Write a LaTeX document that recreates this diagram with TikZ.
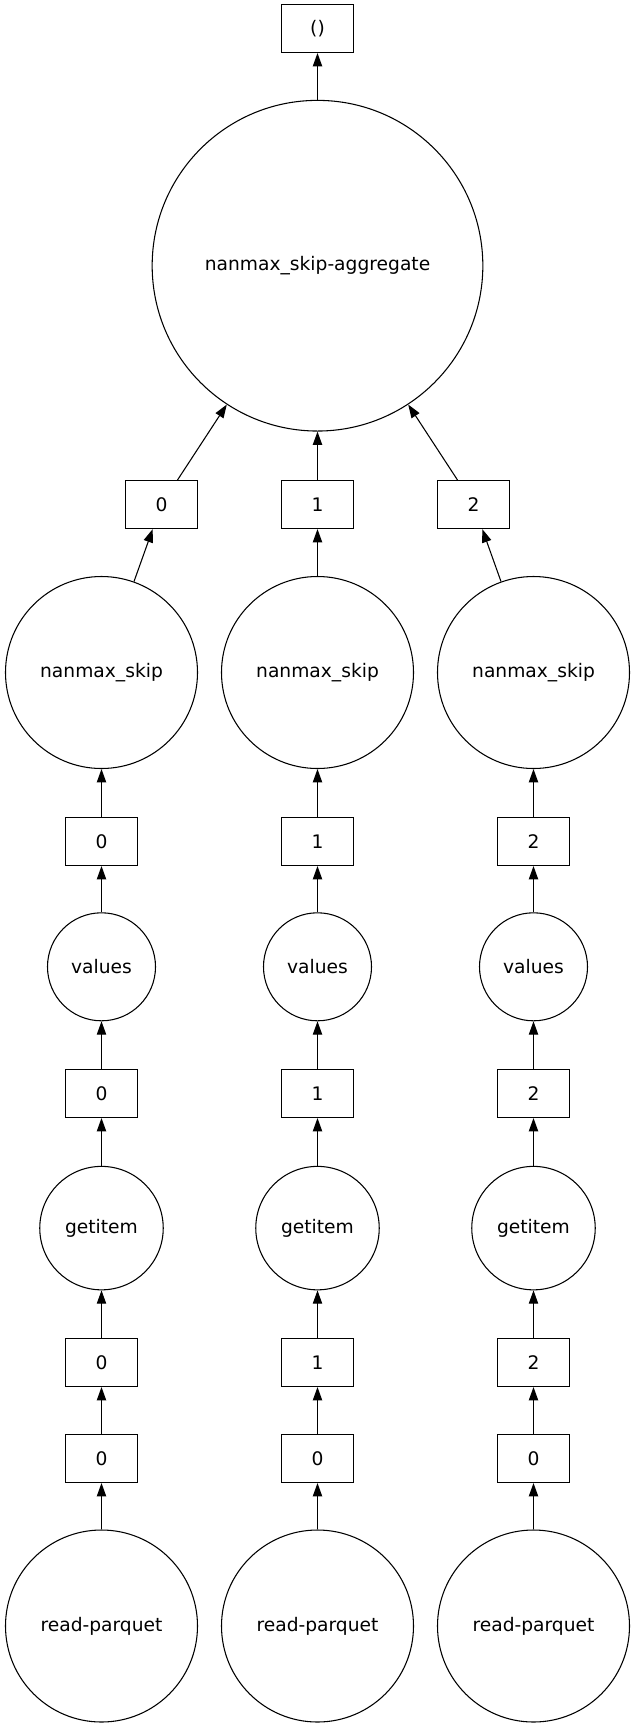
\documentclass[tikz,border=0pt]{standalone}
\usepackage{fontspec}
\setmainfont{DejaVu Sans}
\usetikzlibrary{arrows.meta}
\begin{document}
\begin{tikzpicture}[x=0.75pt,y=-0.75pt,
  every node/.style={font=\fontsize{14}{17}\selectfont, line width=0.8pt},
  keybox/.style={draw, rectangle, minimum width=54pt, minimum height=36pt, inner sep=0pt},
  task/.style={draw, circle, inner sep=0pt, minimum size=#1},
  arr/.style={line width=0.8pt, -{Triangle[length=10pt,width=7pt]}}]
\useasboundingbox (0,0) rectangle (635,1728);
\node[keybox] (top) at (317.5,28.5) {()};
\node[task=248pt] (agg) at (317.5,265.7) {nanmax\_skip-aggregate};
\draw[arr] (agg) -- (top);
\foreach \i/\xa/\xb in {0/161.5/101.5, 1/317.5/317.5, 2/473.5/533.5} {
  \node[keybox] (ra\i) at (\xa,504.5) {\i};
  \node[task=144pt] (ns\i) at (\xb,672.5) {nanmax\_skip};
  \node[keybox] (rb\i) at (\xb,841.5) {\i};
  \node[task=81pt] (va\i) at (\xb,966.8) {values};
  \node[keybox] (rc\i) at (\xb,1093.5) {\i};
  \node[task=92.6pt] (gi\i) at (\xb,1228.1) {getitem};
  \node[keybox] (rd\i) at (\xb,1362.5) {\i};
  \node[keybox] (re\i) at (\xb,1458.5) {0};
  \node[task=144pt] (rp\i) at (\xb,1626) {read-parquet};
  \draw[arr] (ra\i) -- (agg);
  \draw[arr] (ns\i) -- (ra\i);
  \draw[arr] (rb\i) -- (ns\i);
  \draw[arr] (va\i) -- (rb\i);
  \draw[arr] (rc\i) -- (va\i);
  \draw[arr] (gi\i) -- (rc\i);
  \draw[arr] (rd\i) -- (gi\i);
  \draw[arr] (re\i) -- (rd\i);
  \draw[arr] (rp\i) -- (re\i);
}
\end{tikzpicture}
\end{document}
